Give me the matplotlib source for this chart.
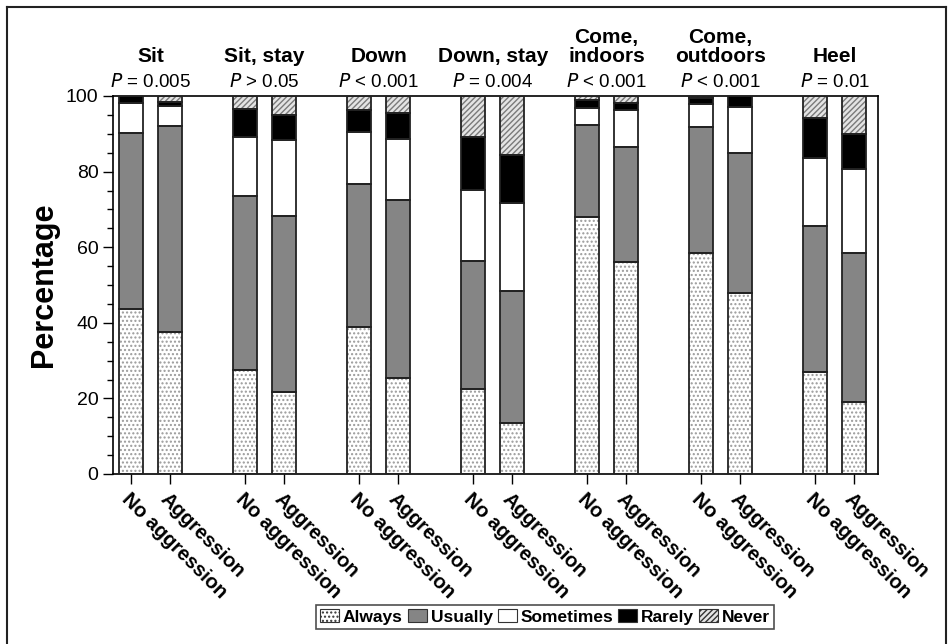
import matplotlib
matplotlib.use("Agg")
import matplotlib.pyplot as plt
import matplotlib.patches as mpatches
from matplotlib.lines import Line2D
import numpy as np

plt.rcParams['font.family'] = ['Liberation Sans', 'DejaVu Sans']

# ---- data (percent of dogs) ----
commands = ['Sit', 'Sit, stay', 'Down', 'Down, stay', 'Come,\nindoors', 'Come,\noutdoors', 'Heel']
p_values = ['= 0.005', '> 0.05', '< 0.001', '= 0.004', '< 0.001', '< 0.001', '= 0.01']
groups = ['No aggression', 'Aggression']
responses = ['Always', 'Usually', 'Sometimes', 'Rarely', 'Never']

# rows: commands; columns: no aggression, aggression
always = [[43.7, 37.5], [27.6, 21.6], [39.0, 25.5], [22.4, 13.5], [68.0, 56.2], [58.5, 47.8], [27.1, 19.1]]
usually = [[46.4, 54.6], [46.0, 46.7], [37.7, 47.0], [33.9, 34.9], [24.3, 30.4], [33.2, 37.0], [38.6, 39.4]]
sometimes = [[8.0, 5.3], [15.5, 20.1], [13.7, 16.0], [18.8, 23.4], [4.4, 9.7], [6.1, 12.4], [17.8, 22.2]]
rarely = [[1.9, 1.1], [7.4, 6.6], [5.8, 7.1], [14.1, 12.6], [2.3, 1.9], [1.7, 2.8], [10.6, 9.2]]
never = [[0.0, 1.5], [3.5, 5.0], [3.8, 4.4], [10.8, 15.6], [1.0, 1.8], [0.5, 0.0], [5.9, 10.1]]

styles = {
    'Always':    dict(face='white', hatch='....', hcol='#9a9a9a'),
    'Usually':   dict(face='#858585', hatch=None, hcol='#858585'),
    'Sometimes': dict(face='white', hatch=None, hcol='white'),
    'Rarely':    dict(face='black', hatch=None, hcol='black'),
    'Never':     dict(face='#e4e4e4', hatch='//////', hcol='#7a7a7a'),
}

fig = plt.figure(figsize=(9.53, 6.44), dpi=100)
ax = fig.add_axes([113 / 953, 170 / 644, 765 / 953, 378 / 644])

offset = 0.169
width = 0.21
series = [np.array(always), np.array(usually), np.array(sometimes), np.array(rarely), np.array(never)]

xpos = []
xlabels = []
for gi in range(len(commands)):
    for j, g in enumerate(groups):
        xpos.append(gi + (j - 0.5) * 2 * offset)
        xlabels.append(g)
xpos = np.array(xpos)

bottom = np.zeros(len(xpos))
for name, vals in zip(responses, series):
    v = vals.flatten()
    st = styles[name]
    # fill + hatch layer
    ax.bar(xpos, v, width, bottom=bottom, color=st['face'], hatch=st['hatch'],
           edgecolor=st['hcol'], linewidth=0, zorder=2)
    # outline layer
    ax.bar(xpos, v, width, bottom=bottom, fill=False, edgecolor='#222222',
           linewidth=1.3, zorder=3)
    bottom += v

ax.set_ylim(0, 100)
ax.set_xlim(-0.33, 6.38)
ax.set_yticks(np.arange(0, 101, 20))
ax.set_yticks(np.arange(0, 101, 5), minor=True)
ax.tick_params(axis='y', which='major', direction='out', length=7, width=1, labelsize=14)
ax.tick_params(axis='y', which='minor', direction='out', length=4, width=1)
ax.set_xticks(xpos)
ax.set_xticklabels(xlabels, rotation=-45, ha='left', va='top', rotation_mode='anchor',
                   fontsize=14.5, fontweight='bold')
ax.tick_params(axis='x', direction='out', length=7, width=1, pad=4)
for s in ax.spines.values():
    s.set_linewidth(1.2)
ax.set_ylabel('Percentage', fontsize=22, fontweight='bold', labelpad=5)

for gi, (cmd, p) in enumerate(zip(commands, p_values)):
    ax.text(gi, 1.012, r'$\it{P}$ ' + p, transform=ax.get_xaxis_transform(),
            ha='center', va='bottom', fontsize=13.5)
    ax.text(gi, 1.08, cmd, transform=ax.get_xaxis_transform(),
            ha='center', va='bottom', fontsize=15, fontweight='bold', linespacing=1.0)

handles = []
for name in responses:
    st = styles[name]
    handles.append(mpatches.Patch(facecolor=st['face'], hatch=st['hatch'],
                                  edgecolor='#333333', linewidth=0.8, label=name))
leg = fig.legend(handles=handles, loc='center', bbox_to_anchor=(545 / 953, 1 - 617 / 644),
                 ncol=5, frameon=True, fancybox=False, edgecolor='#222222',
                 prop={'weight': 'bold', 'size': 12.5}, handlelength=1.1, handleheight=0.8,
                 handletextpad=0.2, columnspacing=0.3, borderpad=0.25, borderaxespad=0)
leg.get_frame().set_linewidth(1.2)

# outer frame (left, top, right)
for xs, ys in [([7, 7], [0, 637]), ([7, 946], [637, 637]), ([946, 946], [637, 0])]:
    fig.add_artist(Line2D(np.array(xs) / 953, np.array(ys) / 644, color='#222222', linewidth=1.5))

fig.savefig('out.png', dpi=100)
